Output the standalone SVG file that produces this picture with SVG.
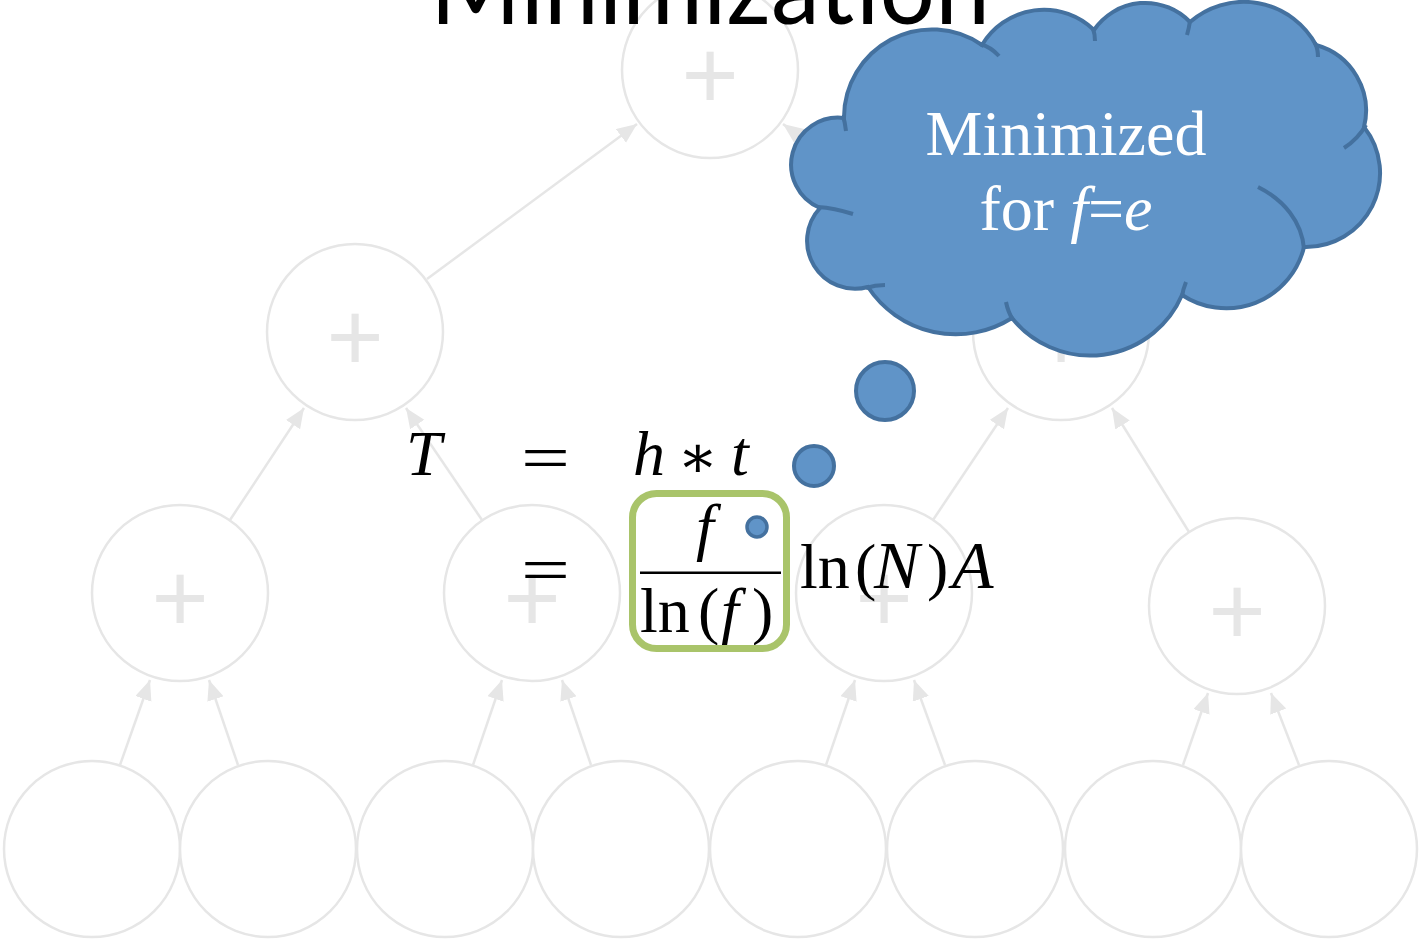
<svg xmlns="http://www.w3.org/2000/svg" width="1421" height="943" viewBox="0 0 1421 943">
<defs>
<marker id="ah" markerUnits="userSpaceOnUse" markerWidth="22" markerHeight="18" refX="20" refY="8.5" orient="auto">
<path d="M0,0 L20,8.5 L0,17 z" fill="#e6e6e6"/>
</marker>
</defs>
<style>
.node{fill:#ffffff;stroke:#e6e6e6;stroke-width:2.5}
.plus{font-family:"Liberation Sans",Arial,sans-serif;font-size:98px;fill:#e6e6e6;text-anchor:middle}
.edge{stroke:#e6e6e6;stroke-width:2.5;fill:none;marker-end:url(#ah)}
.eq{font-family:"Liberation Serif","Times New Roman",serif;font-size:64px;fill:#000}
.it{font-style:italic}
.bub{fill:#6094c8;stroke:#44719f;stroke-width:4}
.ctext{font-family:"Liberation Serif","Times New Roman",serif;font-size:64px;fill:#ffffff;text-anchor:middle}
</style>
<rect width="1421" height="943" fill="#ffffff"/>
<g id="connectors">
<line class="edge" x1="120" y1="765" x2="150" y2="680"/>
<line class="edge" x1="238" y1="765" x2="209" y2="680"/>
<line class="edge" x1="473" y1="765" x2="502" y2="680"/>
<line class="edge" x1="591" y1="765" x2="562" y2="680"/>
<line class="edge" x1="826" y1="765" x2="855" y2="680"/>
<line class="edge" x1="945" y1="765" x2="914" y2="680"/>
<line class="edge" x1="1183" y1="765" x2="1208" y2="693"/>
<line class="edge" x1="1299" y1="765" x2="1271" y2="693"/>
<line class="edge" x1="230" y1="520" x2="304" y2="408"/>
<line class="edge" x1="482" y1="520" x2="406" y2="408"/>
<line class="edge" x1="933" y1="520" x2="1008" y2="408"/>
<line class="edge" x1="1189" y1="532" x2="1112" y2="408"/>
<line class="edge" x1="427" y1="279" x2="637" y2="124"/>
<line class="edge" x1="993" y1="279" x2="783" y2="124"/>
</g>
<g id="node-top"><circle class="node" cx="710" cy="70" r="88"/><text class="plus" x="710" y="109">+</text></g>
<g id="node-l2a"><circle class="node" cx="355" cy="332" r="88"/><text class="plus" x="355" y="371">+</text></g>
<g id="node-l2b"><circle class="node" cx="1061" cy="332" r="88"/><text class="plus" x="1061" y="371">+</text></g>
<g id="node-l3a"><circle class="node" cx="180" cy="593" r="88"/><text class="plus" x="180" y="632">+</text></g>
<g id="node-l3b"><circle class="node" cx="532" cy="593" r="88"/><text class="plus" x="532" y="632">+</text></g>
<g id="node-l3c"><circle class="node" cx="884" cy="593" r="88"/><text class="plus" x="884" y="632">+</text></g>
<g id="node-l3d"><circle class="node" cx="1237" cy="606" r="88"/><text class="plus" x="1237" y="645">+</text></g>
<g id="leaf1"><circle class="node" cx="92" cy="849" r="88"/></g>
<g id="leaf2"><circle class="node" cx="268" cy="849" r="88"/></g>
<g id="leaf3"><circle class="node" cx="445" cy="849" r="88"/></g>
<g id="leaf4"><circle class="node" cx="621" cy="849" r="88"/></g>
<g id="leaf5"><circle class="node" cx="798" cy="849" r="88"/></g>
<g id="leaf6"><circle class="node" cx="975" cy="849" r="88"/></g>
<g id="leaf7"><circle class="node" cx="1153" cy="849" r="88"/></g>
<g id="leaf8"><circle class="node" cx="1329" cy="849" r="88"/></g>
<g id="title"><text x="430" y="24" font-family="Lato,'Liberation Sans',sans-serif" font-size="104" fill="#000" textLength="560" lengthAdjust="spacingAndGlyphs">Minimization</text></g>
<g id="equation">
<text class="eq it" x="406" y="475" font-size="68">T</text>
<text class="eq" x="521" y="479" textLength="49" lengthAdjust="spacingAndGlyphs">=</text>
<text class="eq it" x="633" y="475">h</text>
<text x="698" y="477" font-family="'DejaVu Serif',serif" font-size="60" text-anchor="middle">∗</text>
<text class="eq it" x="731" y="475">t</text>
<text class="eq" x="521" y="591" textLength="49" lengthAdjust="spacingAndGlyphs">=</text>
<text class="eq it" x="696" y="548">f</text>
<rect x="640" y="571.5" width="141" height="2.5" fill="#000"/>
<text class="eq" y="632"><tspan x="640">ln</tspan><tspan x="698">(</tspan><tspan class="it" x="721">f</tspan><tspan x="752">)</tspan></text>
<text class="eq" y="588"><tspan x="800">ln</tspan><tspan x="855">(</tspan><tspan class="it" x="874" font-size="68">N</tspan><tspan x="927">)</tspan><tspan class="it" x="952" font-size="68">A</tspan></text>
<rect x="632.5" y="493.5" width="154" height="155" rx="24" fill="none" stroke="#a9c46a" stroke-width="7"/>
</g>
<g id="thought-cloud">
<ellipse class="bub" cx="757" cy="527" rx="10" ry="10" style="stroke-width:3.5"/>
<ellipse class="bub" cx="814" cy="466" rx="20" ry="20"/>
<ellipse class="bub" cx="885" cy="391" rx="29" ry="29"/>
<path class="bub" d="M844,118 A88 88 0 0 1 982,45 A72 72 0 0 1 1094,30 A62 62 0 0 1 1190,22 A82 82 0 0 1 1316,45 A68 68 0 0 1 1364,127 A74 74 0 0 1 1304,247 A80 80 0 0 1 1182,295 A100 100 0 0 1 1012,318 A105 105 0 0 1 868,287 A48 48 0 0 1 820,208 A47 47 0 0 1 844,118 Z"/>
<path fill="none" stroke="#44719f" stroke-width="4" d="M843,116 Q845,122 846,131 M980,44 Q991,47 999,56 M1093,29 Q1095,34 1095,41 M1190,21 Q1189,28 1187,35 M1315,43 Q1318,49 1318,57 M1366,125 Q1358,139 1344,148 M1258,187 C1284,200 1302,222 1304,249 M1182,297 Q1183,289 1186,282 M1013,320 Q1008,312 1006,302 M866,288 Q875,285 885,285 M818,207 Q834,208 853,214"/>
<text class="ctext" x="1066" y="155">Minimized</text>
<text class="ctext" x="1066" y="230">for <tspan font-style="italic">f</tspan>=<tspan font-style="italic">e</tspan></text>
</g>
</svg>
